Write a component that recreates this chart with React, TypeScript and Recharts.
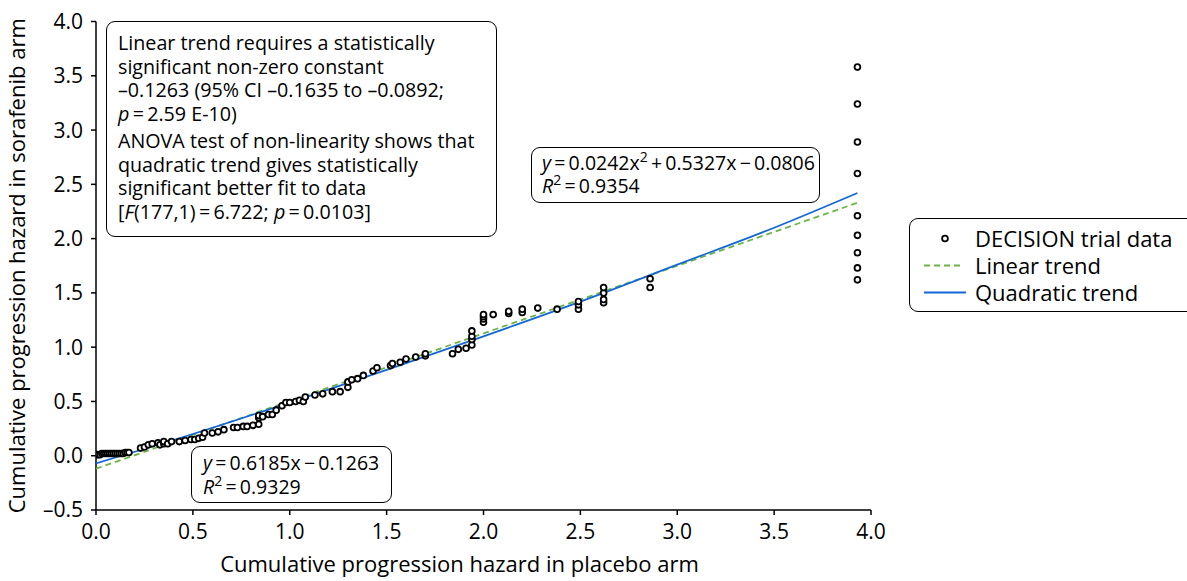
import React from 'react';
import { ScatterChart, Scatter, XAxis, YAxis } from 'recharts';

// ---- data ----
const trialX = [
  0.0, 0.01, 0.02, 0.03, 0.04, 0.05, 0.06, 0.07, 0.08, 0.09, 0.1, 0.11, 0.12, 0.13, 0.14, 0.15, 0.16, 0.17,
  0.23, 0.25, 0.27, 0.29, 0.32, 0.33, 0.35, 0.35, 0.37, 0.39, 0.43, 0.46, 0.49, 0.51, 0.53, 0.55, 0.56, 0.6,
  0.63, 0.66, 0.71, 0.73, 0.76, 0.78, 0.81, 0.84, 0.84, 0.84, 0.86, 0.89, 0.91, 0.93, 0.96, 0.98, 1.0, 1.03,
  1.05, 1.07, 1.08, 1.13, 1.17, 1.22, 1.26, 1.3, 1.3, 1.32, 1.35, 1.38, 1.43, 1.45, 1.52, 1.53, 1.57, 1.6,
  1.65, 1.7, 1.7, 1.84, 1.87, 1.91, 1.94, 1.94, 1.94, 1.94, 2.0, 2.0, 2.0, 2.0, 2.05, 2.13, 2.13, 2.2, 2.2,
  2.28, 2.38, 2.49, 2.49, 2.49, 2.62, 2.62, 2.62, 2.62, 2.86, 2.86,
  3.93, 3.93, 3.93, 3.93, 3.93, 3.93, 3.93, 3.93, 3.93,
];
const trialY = [
  0.01, 0.01, 0.01, 0.02, 0.02, 0.02, 0.02, 0.02, 0.02, 0.02, 0.02, 0.02, 0.02, 0.02, 0.02, 0.03, 0.03, 0.03,
  0.07, 0.08, 0.1, 0.11, 0.12, 0.1, 0.11, 0.13, 0.11, 0.13, 0.13, 0.14, 0.15, 0.15, 0.16, 0.17, 0.21, 0.21,
  0.22, 0.24, 0.26, 0.26, 0.27, 0.27, 0.28, 0.29, 0.35, 0.37, 0.36, 0.38, 0.38, 0.42, 0.46, 0.49, 0.49, 0.5,
  0.51, 0.5, 0.54, 0.56, 0.57, 0.59, 0.59, 0.63, 0.68, 0.7, 0.71, 0.74, 0.78, 0.81, 0.83, 0.85, 0.86, 0.89,
  0.91, 0.92, 0.94, 0.94, 0.98, 0.99, 1.02, 1.07, 1.1, 1.15, 1.23, 1.26, 1.28, 1.3, 1.3, 1.31, 1.33, 1.32, 1.35,
  1.36, 1.35, 1.35, 1.39, 1.42, 1.41, 1.44, 1.5, 1.55, 1.55, 1.63,
  1.62, 1.73, 1.87, 2.03, 2.21, 2.6, 2.89, 3.24, 3.58,
];

const linearX = [0, 3.93];
const linearY = [-0.12, 2.33];

const quadX = [0, 0.5, 1, 1.5, 2, 2.5, 3, 3.5, 3.93];
const quadY = [-0.07, 0.2, 0.49, 0.79, 1.1, 1.42, 1.76, 2.1, 2.42];

const xTicks = [0, 0.5, 1, 1.5, 2, 2.5, 3, 3.5, 4];
const yTicks = [-0.5, 0, 0.5, 1, 1.5, 2, 2.5, 3, 3.5, 4];

const legendNames = ['DECISION trial data', 'Linear trend', 'Quadratic trend'];
const xTitle = 'Cumulative progression hazard in placebo arm';
const yTitle = 'Cumulative progression hazard in sorafenib arm';

const GREEN = '#6bb545';
const BLUE = '#1467d8';
const FONT = '"Open Sans", "Noto Sans", sans-serif';

const trialData = trialX.map((x, i) => ({ x, y: trialY[i] }));
const linearData = linearX.map((x, i) => ({ x, y: linearY[i] }));
const quadData = quadX.map((x, i) => ({ x, y: quadY[i] }));

const fmt = (v: number) => (v < 0 ? '\u2013' + Math.abs(v).toFixed(1) : v.toFixed(1));

const HollowDot = (props: any) => {
  const { cx, cy } = props;
  if (cx == null || cy == null) return <g />;
  return <circle cx={cx} cy={cy} r={2.9} fill="#fff" stroke="#000" strokeWidth={1.8} />;
};
const NoDot = () => <g />;

const Sup = ({ children }: { children: React.ReactNode }) => (
  <span style={{ fontSize: '0.72em', verticalAlign: '0.6em', lineHeight: 0 }}>{children}</span>
);
const I = ({ children }: { children: React.ReactNode }) => <span style={{ fontStyle: 'italic' }}>{children}</span>;

const boxBase: React.CSSProperties = {
  position: 'absolute',
  boxSizing: 'border-box',
  border: '1.5px solid #000',
  borderRadius: 9,
  background: '#fff',
  fontFamily: FONT,
  color: '#000',
  whiteSpace: 'nowrap',
};

const LegendBox = () => (
  <div
    style={{
      ...boxBase,
      left: 909,
      top: 218,
      width: 300,
      height: 94,
      padding: '6px 0 0 13px',
      fontSize: 22,
      lineHeight: '27px',
    }}
  >
    {legendNames.map((name, i) => (
      <div key={name} style={{ display: 'flex', alignItems: 'center', height: 27 }}>
        <svg width={52} height={27} style={{ flex: 'none' }}>
          {i === 0 && <circle cx={22} cy={13.5} r={2.9} fill="#fff" stroke="#000" strokeWidth={1.8} />}
          {i === 1 && <line x1={1} x2={41} y1={13.5} y2={13.5} stroke={GREEN} strokeWidth={1.8} strokeDasharray="6 4" />}
          {i === 2 && <line x1={1} x2={43} y1={13.5} y2={13.5} stroke={BLUE} strokeWidth={1.8} />}
        </svg>
        <span>{name}</span>
      </div>
    ))}
  </div>
);

export default function App() {
  return (
    <div style={{ position: 'relative', width: 1187, height: 581, fontFamily: FONT, overflow: 'hidden' }}>
      <style>{`body{margin:0;overflow:hidden}`}</style>
      <ScatterChart width={1187} height={581} margin={{ top: 21.5, right: 316, bottom: 7, left: 0 }}>
        <XAxis
          type="number"
          dataKey="x"
          domain={[0, 4]}
          ticks={xTicks}
          tickFormatter={fmt}
          allowDataOverflow
          height={64}
          tickSize={5}
          tickMargin={9}
          axisLine={{ stroke: '#000', strokeWidth: 1.5 }}
          tickLine={{ stroke: '#000', strokeWidth: 1.5 }}
          tick={{ fill: '#000', fontSize: 21 }}
          label={{ value: xTitle, position: 'insideBottom', offset: 2, dx: -24, fill: '#000', fontSize: 22 }}
        />
        <YAxis
          type="number"
          dataKey="y"
          domain={[-0.5, 4]}
          ticks={yTicks}
          tickFormatter={fmt}
          allowDataOverflow
          width={96}
          tickSize={5}
          tickMargin={8}
          axisLine={{ stroke: '#000', strokeWidth: 1.5 }}
          tickLine={{ stroke: '#000', strokeWidth: 1.5 }}
          tick={{ fill: '#000', fontSize: 21 }}
          label={{
            value: yTitle,
            angle: -90,
            position: 'insideLeft',
            offset: 17,
            fill: '#000',
            fontSize: 22,
            style: { textAnchor: 'middle' },
          }}
        />
        <Scatter
          name="Linear trend"
          data={linearData}
          shape={NoDot}
          line={{ stroke: GREEN, strokeWidth: 1.8, strokeDasharray: '6 4' }}
          lineJointType="linear"
          isAnimationActive={false}
        />
        <Scatter
          name="Quadratic trend"
          data={quadData}
          shape={NoDot}
          line={{ stroke: BLUE, strokeWidth: 1.8 }}
          lineJointType="monotoneX"
          isAnimationActive={false}
        />
        <Scatter name="DECISION trial data" data={trialData} shape={HollowDot} isAnimationActive={false} />
      </ScatterChart>

      <LegendBox />

      <div
        style={{
          ...boxBase,
          left: 106,
          top: 21,
          width: 391,
          height: 216,
          padding: '9px 0 0 11px',
          fontSize: 19.7,
          lineHeight: '23.5px',
        }}
      >
        <div>Linear trend requires a statistically</div>
        <div>significant non-zero constant</div>
        <div>{'\u20130.1263 (95% CI \u20130.1635 to \u20130.0892;'}</div>
        <div>
          <I>p</I>
          {'\u2009=\u20092.59 E-10)'}
        </div>
        <div style={{ marginTop: 4 }}>ANOVA test of non-linearity shows that</div>
        <div>quadratic trend gives statistically</div>
        <div>significant better fit to data</div>
        <div>
          [<I>F</I>
          {'(177,1)\u2009=\u20096.722; '}
          <I>p</I>
          {'\u2009=\u20090.0103]'}
        </div>
      </div>

      <div
        style={{
          ...boxBase,
          left: 531,
          top: 147,
          width: 289,
          height: 56,
          padding: '3px 0 0 10px',
          fontSize: 19.5,
          lineHeight: '23px',
        }}
      >
        <div>
          <I>y</I>
          {'\u2009=\u20090.0242x'}
          <Sup>2</Sup>
          {'\u2009+\u20090.5327x\u2009\u2212\u20090.0806'}
        </div>
        <div>
          <I>R</I>
          <Sup>2</Sup>
          {'\u2009=\u20090.9354'}
        </div>
      </div>

      <div
        style={{
          ...boxBase,
          left: 191,
          top: 446,
          width: 201,
          height: 57,
          padding: '4px 0 0 11px',
          fontSize: 19.5,
          lineHeight: '24px',
        }}
      >
        <div>
          <I>y</I>
          {'\u2009=\u20090.6185x\u2009\u2212\u20090.1263'}
        </div>
        <div>
          <I>R</I>
          <Sup>2</Sup>
          {'\u2009=\u20090.9329'}
        </div>
      </div>
    </div>
  );
}
